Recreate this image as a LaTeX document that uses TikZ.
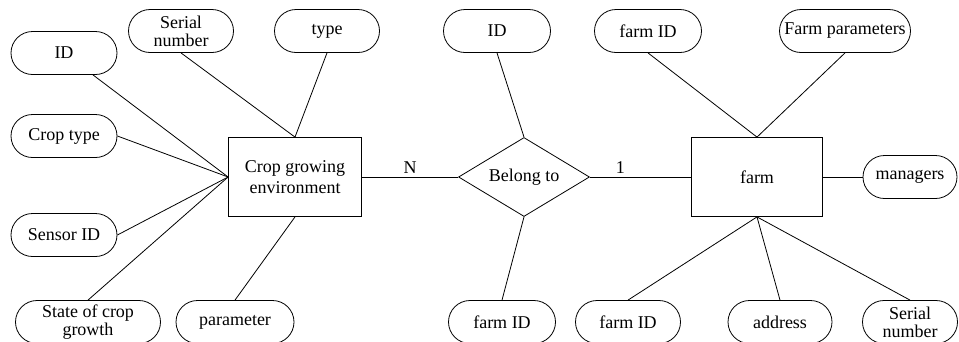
\documentclass[tikz,border=0pt]{standalone}
\usepackage{fontspec}
\setmainfont{Liberation Serif}
\usetikzlibrary{shapes.geometric, shapes.misc, positioning}

\tikzset{
    attr/.style={draw, rounded rectangle, minimum height=43pt, inner sep=1pt, align=center},
    entity/.style={draw, rectangle, minimum width=133pt, minimum height=79pt, align=center},
    relation/.style={draw, diamond, aspect=1.66, minimum width=131pt, minimum height=79pt, inner sep=0pt},
    link/.style={line width=0.8pt}
}

\begin{document}
\begin{tikzpicture}[x=1pt, y=-1pt, font=\fontsize{18}{21}\selectfont, line width=0.8pt]
    \useasboundingbox (0,0) rectangle (959,341);

    % Entities and relation
    \node[entity] (env) at (295, 177) {Crop growing\\environment};
    \node[relation] (belong) at (524, 177) {Belong to};
    \node[entity, minimum width=131pt] (farm) at (757, 177) {farm};

    % Attributes of the crop growing environment
    \node[attr, minimum width=108pt] (envid) at (64, 53) {ID};
    \node[attr, minimum width=107pt] (envserial) at (181, 31) {Serial\\[-3pt]number};
    \node[attr, minimum width=107pt] (envtype) at (327, 31) {type};
    \node[attr, minimum width=108pt] (croptype) at (64, 136) {Crop type};
    \node[attr, minimum width=108pt] (sensorid) at (64, 235) {Sensor ID};
    \node[attr, minimum width=147pt] (state) at (88, 322) {State of crop\\[-3pt]growth};
    \node[attr, minimum width=120pt] (param) at (235, 322) {parameter};

    % Attributes of the relation
    \node[attr, minimum width=109pt] (belongid) at (497, 31) {ID};
    \node[attr, minimum width=109pt] (belongfarm) at (502, 322) {farm ID};

    % Attributes of the farm
    \node[attr, minimum width=109pt] (farmidtop) at (648, 31) {farm ID};
    \node[attr, minimum width=133pt] (farmparam) at (845, 31) {Farm parameters};
    \node[attr, minimum width=96pt] (managers) at (910, 177) {managers};
    \node[attr, minimum width=107pt] (farmid) at (628, 322) {farm ID};
    \node[attr, minimum width=106pt] (address) at (780, 322) {address};
    \node[attr, minimum width=97pt] (farmserial) at (910, 322) {Serial\\[-3pt]number};

    % Links
    \draw[link] (envid) -- (env.west);
    \draw[link] (croptype.east) -- (env.west);
    \draw[link] (sensorid.east) -- (env.west);
    \draw[link] (state.north) -- (env.west);
    \draw[link] (envserial.south) -- (env.north);
    \draw[link] (envtype.south) -- (env.north);
    \draw[link] (param.north) -- (env.south);

    \draw[link] (env.east) -- node[above, pos=0.5] {N} (belong.west);
    \draw[link] (belong.north) -- (belongid.south);
    \draw[link] (belong.south) -- (belongfarm.north);
    \draw[link] (belong.east) -- node[above, pos=0.3] {1} (farm.west);

    \draw[link] (farm.north) -- (farmidtop.south);
    \draw[link] (farm.north) -- (farmparam.south);
    \draw[link] (farm.east) -- (managers.west);
    \draw[link] (farm.south) -- (farmid.north);
    \draw[link] (farm.south) -- (address.north);
    \draw[link] (farm.south) -- (farmserial.north);
\end{tikzpicture}
\end{document}
